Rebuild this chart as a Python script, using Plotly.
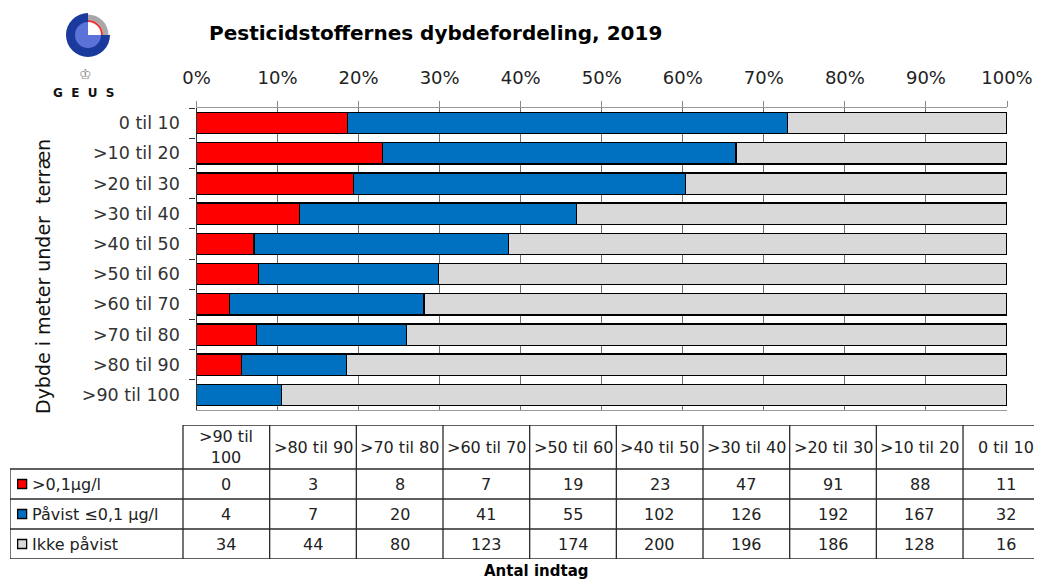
import base64
import plotly.graph_objects as go

# ---------------- data ----------------
depths = ["0 til 10", ">10 til 20", ">20 til 30", ">30 til 40", ">40 til 50",
          ">50 til 60", ">60 til 70", ">70 til 80", ">80 til 90", ">90 til 100"]
over_01 = [11, 88, 91, 47, 23, 19, 7, 8, 3, 0]          # >0,1 µg/l
paavist = [32, 167, 192, 126, 102, 55, 41, 20, 7, 4]     # Påvist <=0,1 µg/l
ikke_paavist = [16, 128, 186, 196, 200, 174, 123, 80, 44, 34]

series_names = [">0,1µg/l", "Påvist ≤0,1 µg/l", "Ikke påvist"]
series_colors = ["#ff0000", "#0070c0", "#d9d9d9"]

table_headers = [">90 til<br>100", ">80 til 90", ">70 til 80", ">60 til 70", ">50 til 60",
                 ">40 til 50", ">30 til 40", ">20 til 30", ">10 til 20", "0 til 10"]
x_ticks = [0, 10, 20, 30, 40, 50, 60, 70, 80, 90, 100]

title_text = "Pesticidstoffernes dybdefordeling, 2019"
y_title = "Dybde i meter under  terræn"
table_title = "Antal indtag"

# ---------------- derived ----------------
series = [over_01, paavist, ikke_paavist]
totals = [a + b + c for a, b, c in zip(over_01, paavist, ikke_paavist)]
pcts = [[v / t * 100 for v, t in zip(s, totals)] for s in series]

# page body has an 8px margin -> figure is slightly smaller and positions offset
OFF = 8
W, H = 1042 - OFF, 581 - OFF


def fx(p):
    return (p - OFF) / W


def fy(p):
    return 1 - (p - OFF) / H


FONT = "DejaVu Sans"

fig = go.Figure()
for name, col, p in zip(series_names, series_colors, pcts):
    fig.add_trace(go.Bar(
        y=depths, x=p, orientation="h", name=name,
        marker=dict(color=col, line=dict(color="#000000", width=1.3)),
        xaxis="x", yaxis="y", showlegend=False, hoverinfo="skip"))

# ---------------- table (drawn on its own axes) ----------------
ncols = len(table_headers)
col_px = 86.67
leg_w = 173 / col_px          # legend column width in column units
hdr_h = 44 / 30               # header height in row units
nrows = len(series)
col_edges = [0] + [leg_w + k for k in range(ncols + 1)]
top = nrows + hdr_h

shapes = []
line_style = dict(color="#2a2a2a", width=1.3)
for r in range(nrows + 1):
    shapes.append(dict(type="line", xref="x2", yref="y2", x0=0, x1=col_edges[-1],
                       y0=r, y1=r, line=line_style))
shapes.append(dict(type="line", xref="x2", yref="y2", x0=leg_w, x1=col_edges[-1],
                   y0=top, y1=top, line=line_style))
shapes.append(dict(type="line", xref="x2", yref="y2", x0=0, x1=0, y0=0, y1=nrows, line=line_style))
for xe in col_edges[1:]:
    shapes.append(dict(type="line", xref="x2", yref="y2", x0=xe, x1=xe, y0=0, y1=top, line=line_style))

annotations = []
tfont = dict(family=FONT, size=16, color="#222222")
for k, h in enumerate(table_headers):
    annotations.append(dict(xref="x2", yref="y2", x=leg_w + k + 0.5, y=nrows + hdr_h / 2,
                            text=h, showarrow=False, font=tfont, xanchor="center", yanchor="middle"))
for r, s in enumerate(series):
    yc = nrows - r - 0.5
    vals = s[::-1]
    for k, v in enumerate(vals):
        annotations.append(dict(xref="x2", yref="y2", x=leg_w + k + 0.5, y=yc, text=str(v),
                                showarrow=False, font=tfont, xanchor="center", yanchor="middle"))
    annotations.append(dict(xref="x2", yref="y2", x=0.225, y=yc, text=series_names[r],
                            showarrow=False, font=tfont, xanchor="left", yanchor="middle"))

fig.add_trace(go.Scatter(
    x=[0.14] * nrows, y=[nrows - r - 0.5 for r in range(nrows)], mode="markers",
    marker=dict(symbol="square", size=9, color=series_colors, line=dict(color="#000000", width=1.3)),
    xaxis="x2", yaxis="y2", showlegend=False, hoverinfo="skip"))

# ---------------- titles / labels ----------------
annotations.append(dict(xref="paper", yref="paper", x=fx(207), y=fy(33), text=title_text,
                        showarrow=False, xanchor="left", yanchor="middle",
                        font=dict(family=FONT, size=20, color="#000000", weight="bold")))
annotations.append(dict(xref="paper", yref="paper", x=fx(43), y=fy(277), text=y_title,
                        showarrow=False, textangle=-90, xanchor="center", yanchor="middle",
                        font=dict(family=FONT, size=19, color="#111111")))
annotations.append(dict(xref="paper", yref="paper", x=fx(536), y=fy(571), text=table_title,
                        showarrow=False, xanchor="center", yanchor="middle",
                        font=dict(family=FONT, size=15, color="#000000", weight="bold")))
annotations.append(dict(xref="paper", yref="paper", x=fx(85), y=fy(74), text="♔",
                        showarrow=False, xanchor="center", yanchor="middle",
                        font=dict(family=FONT, size=14, color="#8a8a8a")))
annotations.append(dict(xref="paper", yref="paper", x=fx(84), y=fy(93), text="G  E  U  S",
                        showarrow=False, xanchor="center", yanchor="middle",
                        font=dict(family=FONT, size=12, color="#111111", weight="bold")))

svg = """<svg xmlns='http://www.w3.org/2000/svg' width='140' height='60' viewBox='8 8 140 60'>
<path d='M88,35 L88,13 A22,22 0 1,0 110,35 Z' fill='#1b3a9e'/>
<path d='M88,35 L88,22 A13,13 0 1,0 101,35 Z' fill='#5b72d8'/>
<path d='M88,14.5 A20.5,20.5 0 0,1 108.5,35 L103,35 A15,15 0 0,0 88,20 Z' fill='#a8a8a8'/>
<path d='M88,20 A15,15 0 0,1 103,35 L101,35 A13,13 0 0,0 88,22 Z' fill='#ee3333'/>
</svg>"""
logo_src = "data:image/svg+xml;base64," + base64.b64encode(svg.encode()).decode()

fig.update_layout(
    template="none",
    width=W, height=H,
    margin=dict(l=0, r=0, t=0, b=0, pad=0, autoexpand=False),
    paper_bgcolor="white", plot_bgcolor="white",
    barmode="stack", bargap=0.295,
    showlegend=False,
    font=dict(family=FONT, color="#222222"),
    xaxis=dict(domain=[fx(196.5), fx(1007)], range=[0, 100], side="top", anchor="y",
               tickvals=x_ticks, ticktext=[f"{v}%" for v in x_ticks],
               ticks="outside", ticklen=6, tickcolor="#888888", ticklabelstandoff=10,
               showgrid=True, gridcolor="#6e6e6e", gridwidth=1,
               showline=True, linecolor="#9a9a9a", linewidth=1.2, mirror=True,
               zeroline=False, automargin=False,
               tickfont=dict(family=FONT, size=18, color="#222222"), fixedrange=True),
    yaxis=dict(domain=[fy(410), fy(108)], type="category", categoryorder="array",
               categoryarray=depths, range=[len(depths) - 0.5, -0.5], anchor="x",
               ticks="outside", tickson="boundaries", ticklen=6, tickcolor="#333333",
               ticklabelstandoff=12, showline=True, linecolor="#333333", linewidth=1.3,
               showgrid=False, zeroline=False, automargin=False,
               tickfont=dict(family=FONT, size=17.5, color="#333333"), fixedrange=True),
    xaxis2=dict(domain=[fx(10), 1], range=[0, (1042 - 10) / col_px], visible=False,
                anchor="y2", fixedrange=True, automargin=False),
    yaxis2=dict(domain=[fy(559), fy(425)], range=[0, top], visible=False,
                anchor="x2", fixedrange=True, automargin=False),
    shapes=shapes,
    annotations=annotations,
    images=[dict(source=logo_src, xref="paper", yref="paper", x=0, y=1,
                 sizex=140 / W, sizey=60 / H, xanchor="left", yanchor="top",
                 sizing="stretch", layer="above")],
)

fig.write_html("out.html")
